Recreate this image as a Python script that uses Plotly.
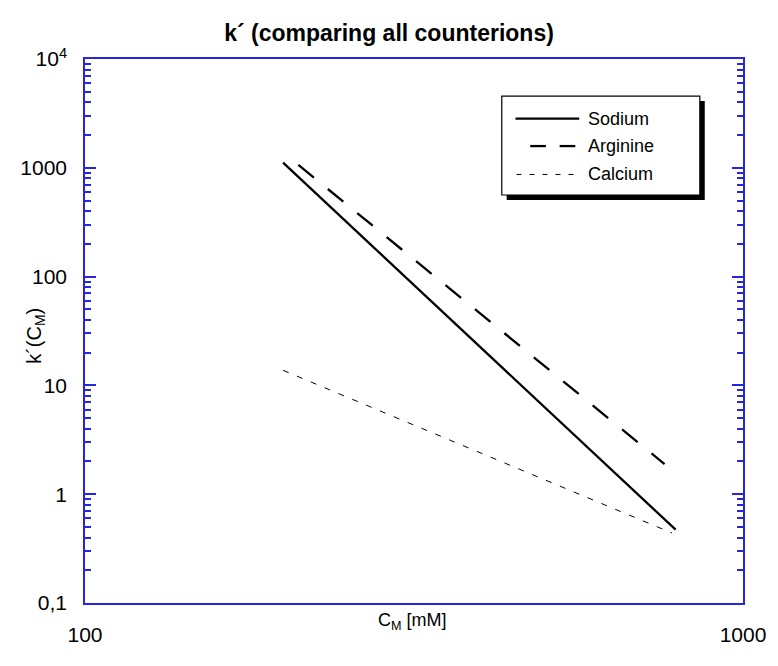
import plotly.graph_objects as go

# ---- data ----
sodium_c = [200, 790]
sodium_k = [1114, 0.472]

arginine_c = [211, 760]
arginine_k = [1062, 1.89]

calcium_c = [200, 780]
calcium_k = [13.75, 0.44]

y_tickvals = [0.1, 1, 10, 100, 1000, 10000]
y_ticktext = ["0,1", "1", "10", "100", "1000", "10<sup>4</sup>"]
x_tickvals = [100, 1000]
x_ticktext = ["100", "1000"]

# ---- layout geometry (page pixels) ----
OFF = 8  # default body margin of the html page
W, H = 778 - OFF, 666 - 2 * OFF
L, R, T, B = 78, 749, 59, 615
PW, PH = R - L, B - T


def px(x):
    return (x - L) / PW


def py(y):
    return (B - y) / PH


FONT = "Arial, Liberation Sans, sans-serif"
BLUE = "#2626e0"

fig = go.Figure()
fig.add_trace(go.Scatter(x=sodium_c, y=sodium_k, mode="lines", name="Sodium",
                         line=dict(color="black", width=2.3), showlegend=False))
fig.add_trace(go.Scatter(x=arginine_c, y=arginine_k, mode="lines", name="Arginine",
                         line=dict(color="black", width=2.3, dash="20px,18px"), showlegend=False))
fig.add_trace(go.Scatter(x=calcium_c, y=calcium_k, mode="lines", name="Calcium",
                         line=dict(color="black", width=1, dash="6px,9px"), showlegend=False))

minor_vals = [m * 10 ** e for e in range(-1, 4) for m in range(2, 10)]

fig.update_xaxes(type="log", range=[2, 3], tickvals=x_tickvals, ticktext=x_ticktext,
                 ticks="", showline=True, linecolor=BLUE, linewidth=1.5, mirror=True,
                 showgrid=False, zeroline=False,
                 tickfont=dict(family=FONT, size=21, color="black"), ticklabelstandoff=12)
fig.update_yaxes(type="log", range=[-1, 4], tickvals=y_tickvals, ticktext=y_ticktext,
                 ticks="inside", ticklen=11, tickwidth=1.5, tickcolor=BLUE,
                 showline=True, linecolor=BLUE, linewidth=1.5, mirror="ticks",
                 showgrid=False, zeroline=False,
                 minor=dict(ticks="inside", ticklen=6, tickwidth=1.5, tickcolor=BLUE,
                            tickmode="array", tickvals=minor_vals, showgrid=False),
                 tickfont=dict(family=FONT, size=21, color="black"), ticklabelstandoff=12)

shapes = []
# legend shadow + box
bx0, bx1, by0, by1 = 503, 705, 97, 198
shapes.append(dict(type="rect", xref="paper", yref="paper",
                   x0=px(bx0 + 5), x1=px(bx1 + 5), y0=py(by0 + 5), y1=py(by1 + 5),
                   fillcolor="black", line=dict(width=0)))
shapes.append(dict(type="rect", xref="paper", yref="paper",
                   x0=px(bx0), x1=px(bx1), y0=py(by0), y1=py(by1),
                   fillcolor="white", line=dict(color="black", width=1.2)))
# legend samples
shapes.append(dict(type="line", xref="paper", yref="paper",
                   x0=px(517), x1=px(582), y0=py(120), y1=py(120),
                   line=dict(color="black", width=2.3)))
for a, b in [(532, 548), (562, 578)]:
    shapes.append(dict(type="line", xref="paper", yref="paper",
                       x0=px(a), x1=px(b), y0=py(148), y1=py(148),
                       line=dict(color="black", width=2.3)))
shapes.append(dict(type="line", xref="paper", yref="paper",
                   x0=px(518), x1=px(582), y0=py(177), y1=py(177),
                   line=dict(color="black", width=1, dash="5px,8px")))

annotations = []
for label, yy in [("Sodium", 120), ("Arginine", 148), ("Calcium", 177)]:
    annotations.append(dict(text=label, xref="paper", yref="paper", x=px(589), y=py(yy),
                            xanchor="left", yanchor="middle", showarrow=False,
                            font=dict(family=FONT, size=18, color="black")))
annotations.append(dict(text="C<sub>M</sub> [mM]", xref="paper", yref="paper",
                        x=px(412), y=py(634), xanchor="center", yanchor="middle",
                        showarrow=False, font=dict(family=FONT, size=18, color="black")))
annotations.append(dict(text="k´(C<sub>M</sub>)", xref="paper", yref="paper",
                        x=px(28), y=py(342), xanchor="center", yanchor="middle",
                        textangle=-90, showarrow=False,
                        font=dict(family=FONT, size=20, color="black")))

fig.update_layout(
    width=W, height=H,
    margin=dict(l=L - OFF, r=W - (R - OFF), t=T - OFF, b=H - (B - OFF)),
    paper_bgcolor="white", plot_bgcolor="white",
    title=dict(text="<b>k´ (comparing all counterions)</b>", x=(389 - OFF) / W, xref="container",
               y=1 - (33 - OFF) / H, yref="container", xanchor="center", yanchor="middle",
               font=dict(family=FONT, size=23, color="black")),
    shapes=shapes, annotations=annotations, showlegend=False,
)

fig.write_html("out.html")
